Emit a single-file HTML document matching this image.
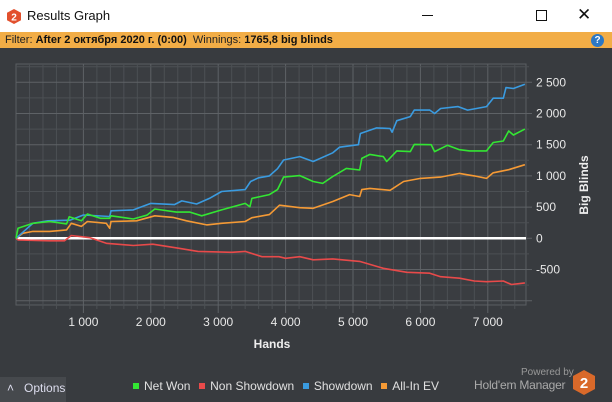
<!DOCTYPE html>
<html><head><meta charset="utf-8">
<style>
*{margin:0;padding:0;box-sizing:border-box}
body{width:612px;height:402px;overflow:hidden;background:#383b3f;font-family:"Liberation Sans","Noto Sans CJK SC",sans-serif;position:relative}
.abs{position:absolute}
#titlebar{left:0;top:0;width:612px;height:32px;background:#fff}
#filterbar{left:0;top:32px;width:612px;height:16px;background:#f2ad46;font-size:11px;color:#222;line-height:16px;padding-left:5px}
#filterbar b{color:#111}
</style></head><body>
<div class="abs" id="titlebar">
  <svg class="abs" style="left:7px;top:9px" width="14" height="15"><polygon points="7,0 14,3.7 14,11.3 7,15 0,11.3 0,3.7" fill="#e2502d"/><text x="7" y="11.5" font-size="10" font-weight="bold" fill="#fff" text-anchor="middle" font-family="Liberation Sans">2</text></svg>
  <div class="abs" style="left:27px;top:8px;font-size:13px;color:#111">Results Graph</div>
  <div class="abs" style="left:422px;top:15px;width:11px;height:1px;background:#111"></div>
  <div class="abs" style="left:536px;top:10px;width:11px;height:11px;border:1px solid #111"></div>
  <div class="abs" style="left:577px;top:5px;font-size:17px;color:#111">✕</div>
</div>
<div class="abs" id="filterbar">Filter: <b>After 2 октября 2020 г. (0:00)</b>&nbsp; Winnings: <b>1765,8 big blinds</b></div>
<div class="abs" style="left:591px;top:34px;width:13px;height:13px;border-radius:50%;background:#2b78c5;color:#fff;font-size:10px;font-weight:bold;text-align:center;line-height:13px">?</div>

<svg class="abs" style="left:0;top:48px" width="612" height="330" id="chart"></svg>

<div class="abs" style="left:0;top:377px;width:66px;height:25px;background:#46494d;color:#dde;font-size:12px;line-height:22px;padding-left:7px">˄&nbsp;&nbsp; Options</div>
<div class="abs" style="left:133px;top:379px;font-size:12px;color:#e0e0e0;white-space:nowrap">
  <span><span style="display:inline-block;width:6px;height:6px;background:#33e633;margin-right:5px;vertical-align:1px"></span>Net Won</span>&nbsp;
  <span><span style="display:inline-block;width:6px;height:6px;background:#e84a4a;margin:0 5px 0 2px;vertical-align:1px"></span>Non Showdown</span>&nbsp;
  <span><span style="display:inline-block;width:6px;height:6px;background:#3a9be0;margin:0 5px 0 2px;vertical-align:1px"></span>Showdown</span>&nbsp;
  <span><span style="display:inline-block;width:6px;height:6px;background:#f59a35;margin:0 5px 0 2px;vertical-align:1px"></span>All-In EV</span>
</div>
<div class="abs" style="left:521px;top:367px;font-size:10px;color:#999">Powered by</div>
<div class="abs" style="left:474px;top:378px;font-size:12px;color:#aaa;letter-spacing:-0.2px">Hold'em Manager</div>
<svg class="abs" style="left:573px;top:370px" width="22" height="25"><polygon points="11,0 22,6 22,19 11,25 0,19 0,6" fill="#d9692a"/><text x="11" y="18" font-size="15" font-weight="bold" fill="#fff" text-anchor="middle" font-family="Liberation Sans">2</text></svg>

<script>
const xTicks=[1000,2000,3000,4000,5000,6000,7000];
const xTickLabels=["1 000","2 000","3 000","4 000","5 000","6 000","7 000"];
const yTicks=[-500,0,500,1000,1500,2000,2500];
const yTickLabels=["-500","0","500","1 000","1 500","2 000","2 500"];
const showdownHands=[0,250,475,800,1000,1390,1410,1740,2000,2350,2460,2680,2870,3050,3400,3480,3600,3760,3880,3970,4210,4410,4700,4800,5080,5110,5350,5550,5580,5650,5850,5910,6140,6210,6300,6560,6700,6980,7080,7230,7270,7380,7550];
const showdownVals=[0,240,280,290,373,350,440,455,560,540,600,550,640,750,780,910,970,1000,1115,1255,1310,1230,1370,1460,1500,1680,1770,1760,1700,1885,1950,2055,2055,2000,2080,2110,2055,2110,2245,2245,2415,2400,2470];
const netWonHands=[0,30,250,500,750,790,970,1060,1250,1390,1410,1740,1940,2060,2380,2580,2755,3050,3400,3470,3500,3760,3880,3970,4210,4410,4550,4700,4900,5100,5130,5250,5450,5500,5650,5850,5910,6160,6210,6400,6580,6730,6980,7080,7230,7310,7380,7550];
const netWonVals=[0,160,240,270,230,345,280,390,320,320,360,310,370,470,420,420,360,455,560,505,640,700,780,980,1005,910,880,990,1120,1095,1280,1345,1310,1230,1400,1390,1505,1500,1390,1490,1420,1400,1400,1535,1560,1720,1655,1750];
const nonShowdownHands=[0,30,500,720,820,1100,1340,1740,2030,2420,2700,3200,3400,3650,3900,4000,4210,4410,4700,5100,5450,5800,6140,6300,6580,6800,6980,7230,7350,7550];
const nonShowdownVals=[0,-25,-40,-40,45,10,-80,-115,-95,-160,-210,-225,-210,-295,-295,-320,-295,-345,-330,-370,-480,-545,-560,-615,-640,-685,-695,-685,-740,-715];
const allInHands=[0,100,250,500,750,820,970,1060,1340,1390,1410,1790,2060,2330,2530,2830,3050,3400,3500,3760,3910,4210,4410,4700,4950,5100,5130,5250,5550,5750,6000,6300,6580,6800,6980,7080,7310,7550];
const allInVals=[0,80,110,110,135,240,190,270,240,160,270,280,360,335,280,215,240,270,330,380,530,490,480,590,700,670,780,800,770,910,960,980,1040,1000,960,1050,1100,1180];

const svg=document.getElementById('chart');
const NS='http://www.w3.org/2000/svg';
const OY=48;
const L=16,R=526,T=64-OY,B=305-OY;
const xMax=(526-16)/67.4*1000;
const yZero=238.3-OY, yPer=31.2/500;
const xs=v=>L+v*67.4/1000;
const ys=v=>yZero-v*yPer;
function mk(tag,attrs){const e=document.createElementNS(NS,tag);for(const k in attrs)e.setAttribute(k,attrs[k]);svg.appendChild(e);return e;}

const bg=mk('rect',{x:L,y:T,width:R-L,height:B-T,fill:'#3a3d41',stroke:'#5a5e62'});


for(let h=200;h<xMax;h+=200){
  const g=mk('line',{x1:xs(h),x2:xs(h),y1:T,y2:B+(h%1000===0?8:4),stroke:h%1000===0?'#5e6266':'#4c5054','stroke-width':1});
  
  
}
for(let v=-1000;v<=2750;v+=250){
  const y=ys(v); if(y<T||y>B)continue;
  const g=mk('line',{x1:L,x2:R+(v%500===0?6:3),y1:y,y2:y,stroke:v%500===0?'#5e6266':'#4c5054','stroke-width':1});
  
  
}
xTicks.forEach((t,i)=>{
  const e=mk('text',{x:xs(t),y:278,'text-anchor':'middle','font-size':12,fill:'#e8e8e8','font-family':'Liberation Sans'});
  e.textContent=xTickLabels[i];
  
  
});
yTicks.forEach((t,i)=>{
  const e=mk('text',{x:536,y:ys(t)+4,'font-size':12,fill:'#e8e8e8','font-family':'Liberation Sans'});
  e.textContent=yTickLabels[i];
  
  
});
const xt=mk('text',{x:272,y:300,'text-anchor':'middle','font-size':12,'font-weight':'bold',fill:'#eee','font-family':'Liberation Sans'});
xt.textContent='Hands';


const yt=mk('text',{x:0,y:0,'text-anchor':'middle','font-size':12,'font-weight':'bold',fill:'#eee','font-family':'Liberation Sans',transform:'translate(588,'+(185-OY)+') rotate(-90)'});
yt.textContent='Big Blinds';


const zl=mk('line',{x1:L,x2:R,y1:ys(0),y2:ys(0),stroke:'#fff','stroke-width':2.5});


function series(hs,vs,color,name){
  let d='';
  for(let i=0;i<hs.length;i++){
    d+=(i===0?'M':' L')+xs(hs[i]).toFixed(1)+','+ys(vs[i]).toFixed(1);
  }
  const p=mk('path',{d:d,fill:'none',stroke:color,'stroke-width':1.6,'stroke-linejoin':'round'});
  
  
}
series(nonShowdownHands,nonShowdownVals,'#e84a4a','non-showdown-line');
series(allInHands,allInVals,'#f59a35','all-in-ev-line');
series(showdownHands,showdownVals,'#3a9be0','showdown-line');
series(netWonHands,netWonVals,'#33e633','net-won-line');
</script>
</body></html>
